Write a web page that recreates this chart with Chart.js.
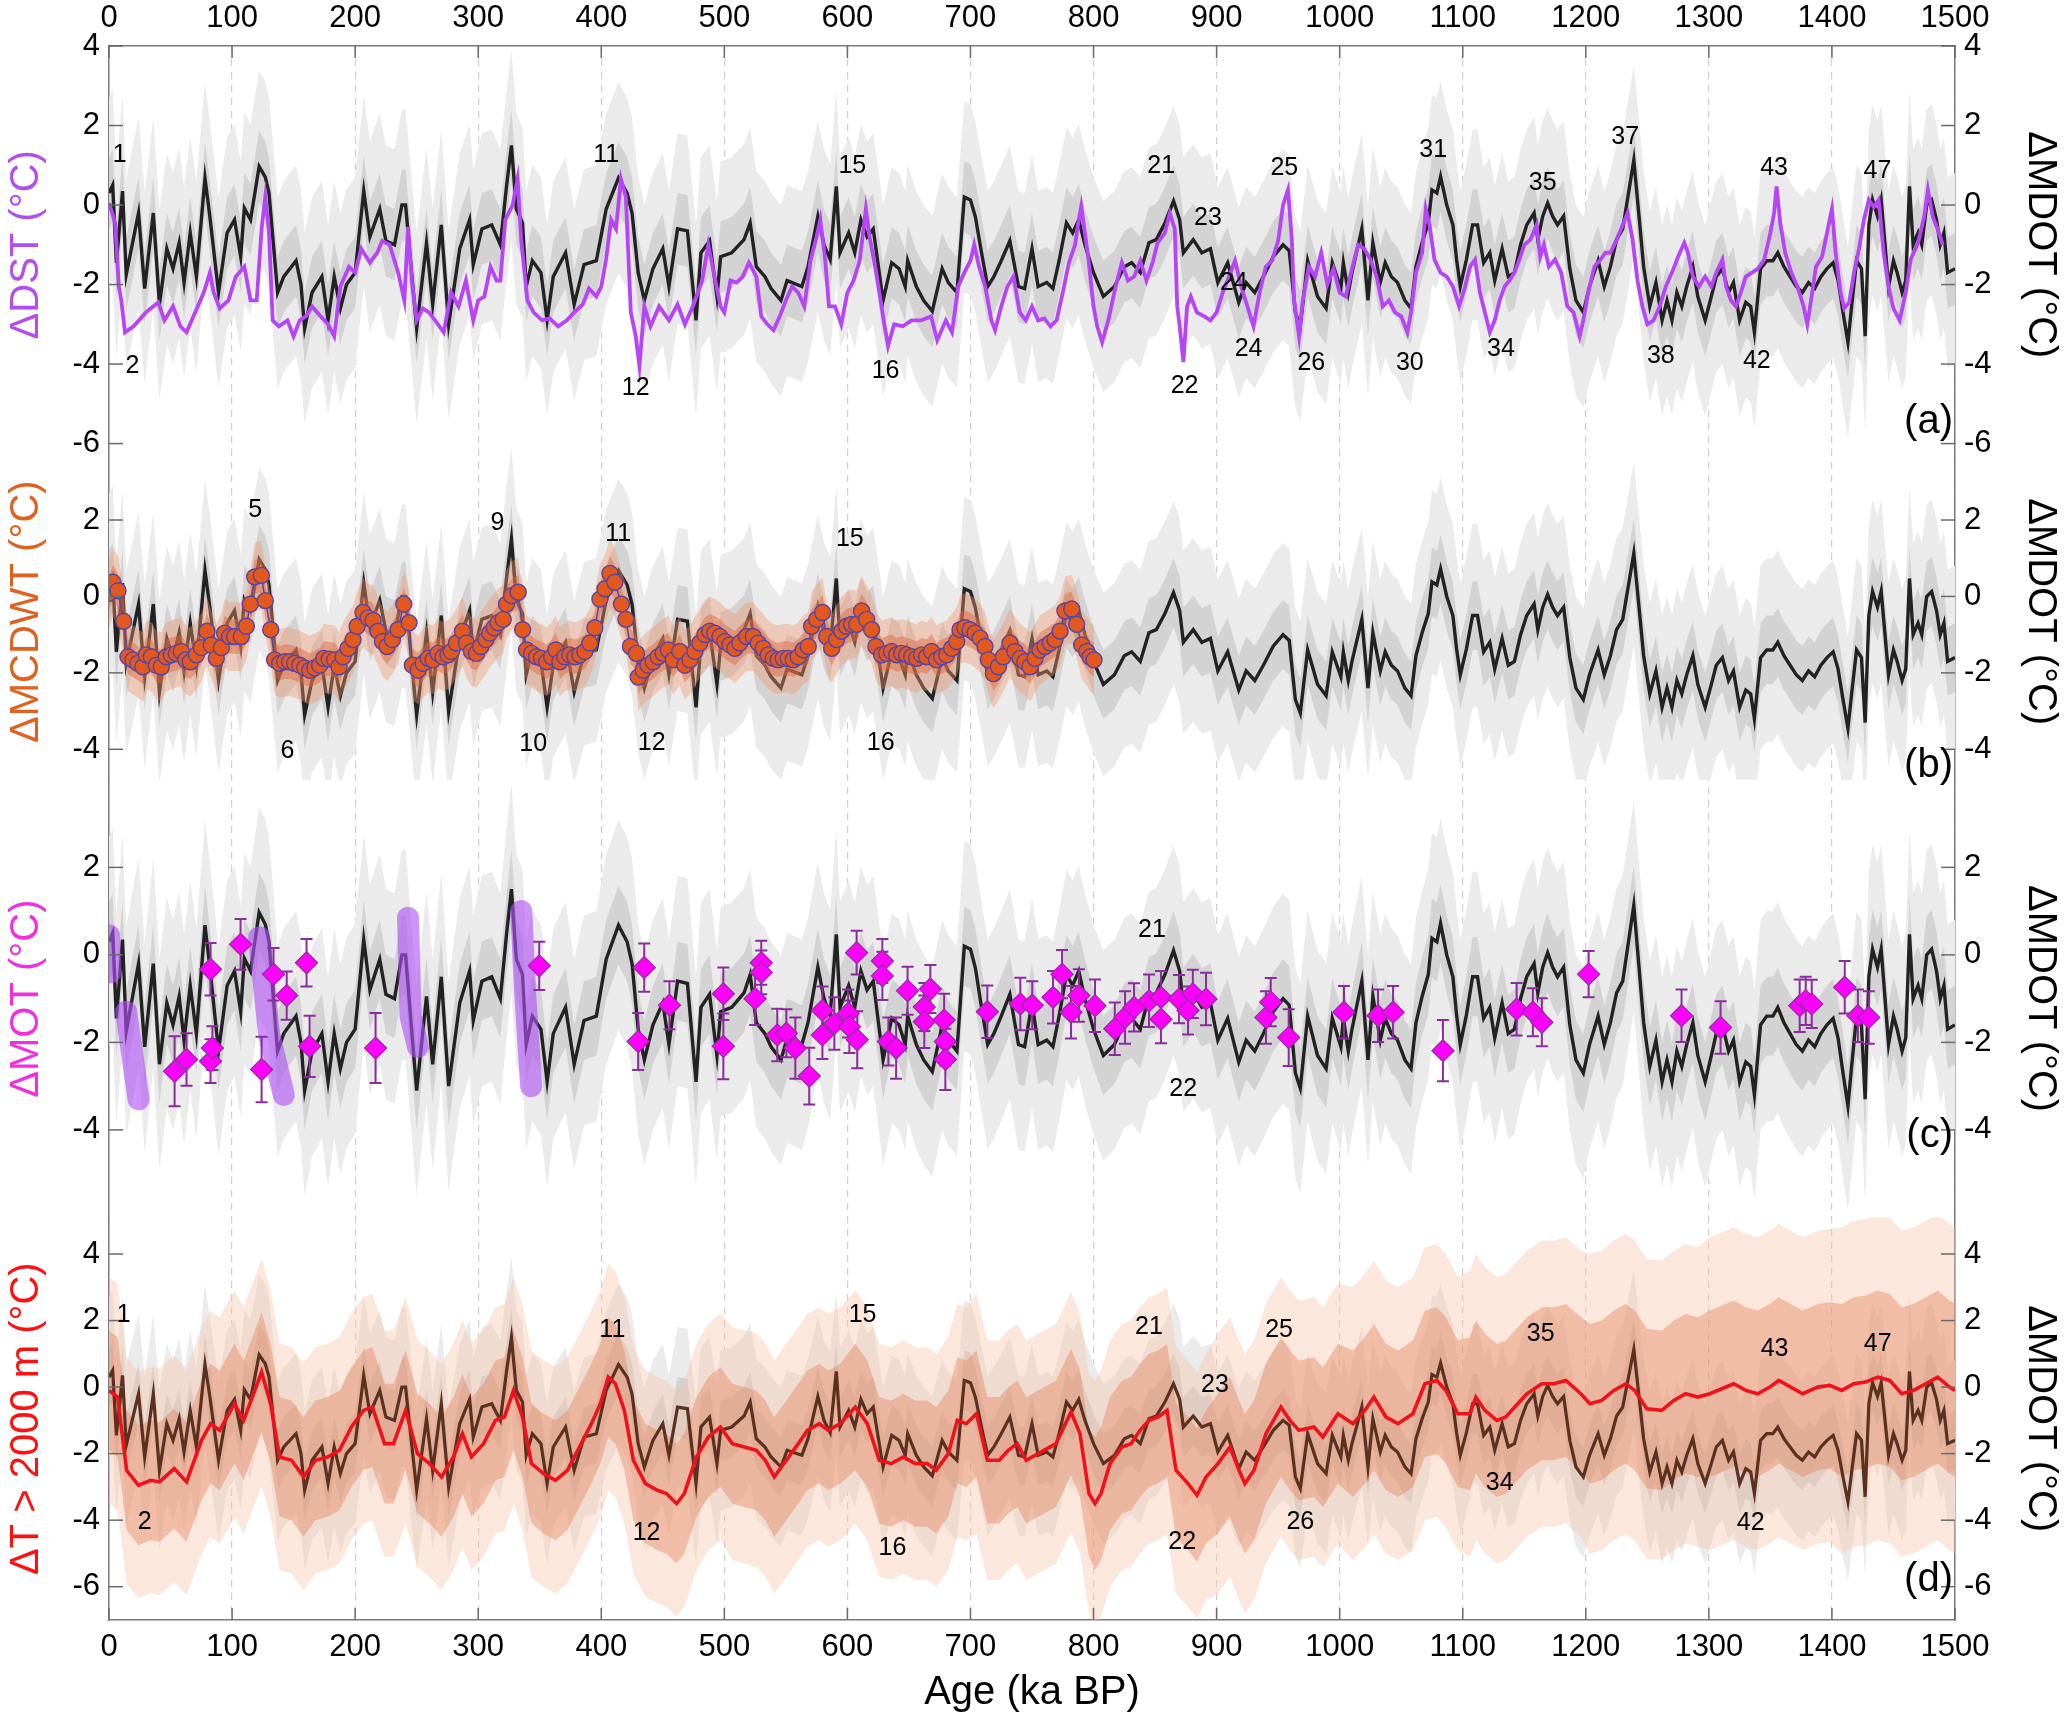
<!DOCTYPE html>
<html>
<head>
<meta charset="utf-8">
<script src="https://cdn.jsdelivr.net/npm/chart.js@4.4.1/dist/chart.umd.min.js"></script>
<style>
  html, body { margin: 0; padding: 0; background: #fff; }
  #tempChart { display: block; }
</style>
</head>
<body>
<canvas id="tempChart" width="2067" height="1727"></canvas>
<script>
// ---- MDOT (black line, repeated in all four panels) ----
var mdotAge = [0,3,6,11,14,24,29,36,41,47,52,57,61,66,71,78,82,89,96,102,107,110,115,122,127,130,137,142,152,156,159,165,173,178,183,188,193,200,207,212,220,225,232,238,241,245,250,258,263,270,276,285,293,296,303,311,318,323,327,331,336,339,344,351,356,361,371,378,386,396,404,414,421,425,430,435,442,450,455,462,470,477,481,488,494,497,506,516,521,526,533,538,546,551,563,568,576,581,586,591,594,601,606,611,616,621,629,636,642,647,649,656,662,669,677,682,689,695,700,704,709,714,719,725,732,739,744,750,755,762,767,772,778,783,788,793,800,808,817,825,831,838,845,851,858,865,870,873,881,888,895,901,909,918,924,931,938,946,954,959,964,968,974,982,989,994,1001,1003,1007,1010,1018,1023,1027,1033,1037,1042,1047,1053,1058,1062,1067,1072,1075,1079,1082,1087,1092,1095,1098,1103,1108,1112,1117,1122,1126,1132,1137,1142,1147,1152,1158,1161,1165,1169,1173,1177,1182,1187,1192,1198,1203,1210,1215,1220,1225,1230,1236,1239,1243,1247,1252,1257,1262,1266,1270,1274,1278,1282,1287,1291,1297,1302,1306,1311,1316,1320,1325,1330,1334,1337,1342,1347,1352,1356,1361,1366,1371,1376,1381,1386,1391,1396,1401,1405,1409,1413,1416,1420,1424,1427,1430,1433,1437,1440,1443,1446,1450,1453,1457,1460,1463,1466,1470,1473,1477,1481,1485,1488,1491,1494,1500];
var mdotVal = [0.3,0.5,-1.45,0.35,-1.75,-0.2,-2.1,-0.2,-2.5,-1.1,-1.6,-0.95,-1.95,-0.7,-1.8,0.68,-0.3,-2.2,-0.7,-0.37,-1.3,-0.08,-0.37,0.97,0.7,0.3,-2.2,-1.8,-1.4,-2.0,-3.1,-2.2,-1.8,-2.9,-1.8,-2.6,-2.0,-1.7,0.35,-0.8,-0.1,-0.9,-1.0,0.0,0.0,-1.4,-3.1,-0.95,-2.5,-0.5,-3.0,-1.1,-0.37,-1.5,-0.6,-0.5,-1.0,0.47,1.5,-0.1,-0.45,-2.05,-1.4,-1.7,-2.9,-1.8,-1.2,-2.5,-1.5,-1.4,-0.1,0.68,0.3,-0.2,-1.7,-2.4,-1.6,-1.1,-2.05,-0.6,-0.65,-2.9,-1.2,-0.9,-2.3,-1.3,-1.2,-0.87,-0.45,-1.55,-1.8,-2.1,-2.4,-1.9,-2.05,-1.55,-0.28,-1.0,-1.37,0.47,-1.2,-0.7,-1.2,-0.37,-0.8,-0.6,-2.4,-1.45,-1.6,-2.05,-1.4,-2.05,-2.4,-2.67,-1.6,-1.95,-2.2,0.2,0.13,-0.3,-1.2,-2.05,-1.8,-1.4,-0.9,-2.05,-2.1,-1.1,-2.05,-1.95,-2.1,-1.4,-0.45,-0.7,-0.37,-1.0,-1.7,-2.3,-2.05,-1.55,-1.45,-1.7,-0.95,-0.87,-0.45,0.1,-0.37,-1.2,-0.87,-1.2,-1.1,-1.95,-1.45,-2.45,-1.95,-2.2,-1.8,-1.3,-1.0,-1.15,-2.7,-3.05,-1.4,-2.3,-2.6,-1.45,-2.1,-1.45,-2.2,-1.7,-0.6,-2.4,-0.95,-1.95,-1.45,-1.8,-1.95,-2.4,-2.6,-1.55,-0.95,-0.45,0.38,0.3,0.72,0.0,-0.5,-1.37,-2.05,-1.37,-0.5,-0.5,-1.45,-1.2,-1.9,-1.1,-1.8,-1.7,-1.0,-0.5,-0.2,-0.87,-0.28,0.05,-0.28,-0.5,-0.28,-1.6,-2.4,-2.7,-2.05,-1.4,-2.05,-1.55,-0.87,-0.6,0.55,1.13,-0.2,-1.55,-2.55,-1.95,-2.9,-2.4,-2.9,-2.2,-2.55,-2.05,-1.55,-2.3,-2.9,-2.3,-1.8,-1.6,-2.2,-1.95,-2.9,-2.45,-2.55,-3.2,-1.6,-1.4,-1.4,-1.2,-1.55,-1.8,-2.05,-2.2,-1.95,-2.1,-1.8,-1.6,-1.45,-1.9,-2.7,-3.45,-2.55,-1.4,-1.6,-3.3,-0.5,0.13,-0.28,0.13,-0.95,-2.05,-1.4,-1.7,-2.2,-1.9,0.47,-1.0,-0.7,-1.0,0.0,0.13,-0.37,-1.0,-0.7,-1.7,-1.6];

// ---- DST (purple, panel a) ----
var dstAge = [0,5,8,10,13,20,30,40,45,52,58,63,70,77,82,85,90,97,103,110,115,120,124,127,130,133,138,145,150,155,160,165,172,178,183,188,195,200,205,212,218,222,228,235,240,243,246,250,255,260,265,272,278,284,290,296,300,305,310,315,318,322,328,332,335,340,345,352,358,365,372,378,385,390,396,400,404,408,412,416,420,424,428,431,435,440,447,455,462,468,475,482,487,492,497,500,505,510,515,520,526,530,535,540,545,550,555,560,565,570,575,578,582,585,590,595,600,605,610,615,618,622,626,630,633,638,645,652,660,668,673,680,685,690,695,700,703,707,712,717,720,725,730,735,740,745,750,755,760,765,770,775,780,785,788,790,793,796,800,803,807,812,818,823,828,833,838,843,848,852,858,862,866,868,870,873,876,879,884,890,895,900,905,910,915,920,925,930,935,940,945,950,954,958,961,963,967,970,975,980,985,990,995,1000,1005,1010,1015,1020,1025,1030,1035,1040,1045,1050,1055,1058,1062,1067,1070,1073,1077,1082,1087,1092,1097,1102,1106,1110,1114,1118,1122,1126,1130,1134,1138,1142,1146,1150,1155,1160,1163,1166,1170,1175,1180,1185,1190,1195,1198,1202,1207,1212,1216,1220,1225,1230,1234,1238,1242,1246,1250,1255,1260,1265,1270,1275,1280,1283,1287,1292,1297,1302,1306,1311,1314,1318,1322,1326,1330,1335,1340,1345,1350,1353,1355,1358,1362,1367,1372,1377,1380,1383,1387,1392,1400,1403,1407,1410,1414,1418,1422,1426,1430,1434,1438,1442,1446,1450,1455,1460,1464,1470,1475,1478,1482,1487,1490];
var dstVal = [0.05,-0.45,-2.05,-2.4,-3.2,-3.05,-2.7,-2.45,-2.9,-2.55,-3.05,-3.2,-2.7,-2.2,-1.7,-2.2,-2.6,-2.4,-1.8,-1.55,-2.4,-2.4,-0.6,0.2,-0.7,-2.9,-3.05,-2.9,-3.3,-2.9,-2.8,-2.55,-2.8,-3.0,-3.3,-2.05,-1.55,-1.7,-1.1,-1.45,-1.2,-0.9,-1.0,-1.7,-2.4,-0.55,-1.9,-2.9,-2.6,-2.7,-2.9,-3.2,-2.2,-2.55,-1.9,-2.9,-2.4,-2.3,-1.55,-1.9,-1.9,-0.37,0.0,0.65,-0.9,-2.4,-2.7,-2.9,-2.85,-3.05,-2.9,-2.7,-2.5,-2.1,-2.3,-2.05,-1.35,-0.37,-0.6,0.65,0.2,-2.7,-3.3,-4.05,-2.55,-3.05,-2.55,-2.9,-2.5,-3.0,-2.5,-1.9,-1.0,-1.8,-2.55,-2.7,-1.9,-1.95,-1.8,-1.45,-1.8,-2.8,-3.0,-3.15,-2.8,-2.4,-2.05,-2.2,-2.55,-1.4,-0.8,-0.37,-1.4,-2.55,-2.55,-3.0,-2.2,-1.9,-1.4,-0.1,-0.8,-1.45,-2.2,-3.0,-3.55,-3.0,-3.05,-2.9,-2.9,-2.8,-3.4,-2.9,-3.2,-2.05,-1.7,-1.4,-1.0,-1.55,-2.05,-2.9,-3.15,-2.55,-2.05,-1.8,-2.7,-2.9,-2.55,-2.9,-2.85,-3.05,-2.9,-2.2,-1.45,-1.0,-0.37,-0.03,-0.7,-1.4,-2.55,-3.05,-3.45,-2.9,-2.05,-1.45,-1.9,-1.8,-1.4,-1.9,-1.45,-0.95,-0.7,-0.2,-0.6,-2.55,-3.05,-3.95,-2.55,-2.3,-2.7,-2.8,-2.9,-2.7,-2.2,-1.8,-1.4,-2.05,-2.55,-3.05,-2.2,-1.55,-1.4,-0.9,0.0,0.38,-0.8,-2.4,-3.3,-2.4,-1.55,-1.8,-1.2,-2.0,-1.6,-2.2,-2.3,-1.6,-1.0,-1.1,-1.37,-1.8,-2.55,-2.4,-2.7,-2.8,-3.2,-2.7,-1.7,-1.2,-0.1,-0.5,-1.37,-1.7,-1.8,-2.05,-2.55,-2.05,-1.55,-1.37,-2.2,-2.7,-3.2,-2.9,-2.4,-2.05,-1.9,-1.7,-1.37,-1.0,-0.87,-0.5,-1.3,-1.0,-1.55,-1.37,-1.7,-2.55,-2.7,-3.3,-2.9,-2.2,-1.55,-1.37,-1.2,-1.2,-0.87,-0.5,-0.2,-0.87,-1.9,-2.55,-3.0,-2.9,-2.55,-2.05,-1.7,-1.3,-0.95,-1.2,-1.8,-2.05,-1.8,-2.05,-1.7,-1.37,-2.05,-2.4,-2.55,-2.2,-1.8,-1.7,-1.6,-1.37,-0.7,-0.2,0.47,-0.45,-1.2,-1.7,-2.05,-2.55,-3.0,-2.4,-1.55,-1.3,-0.1,-1.2,-2.2,-2.6,-2.45,-1.7,-1.1,-0.37,0.13,-0.05,0.13,-1.2,-2.05,-2.6,-2.9,-2.2,-1.37,-0.95,-0.28,0.38,-0.3,-0.7,-1.0];

// ---- MCDWT (orange circles, panel b) ----
var mcdwtAge = [0,3.2,7.3,11.9,15.4,19.5,23.5,27.6,30.3,34.4,38.4,42.5,46.6,50.6,54.7,58.7,62.3,66.1,71,75,79.6,83.1,87.2,91.3,93.9,98,102,107.5,111.6,114.8,118.4,123.8,127,131.4,134.6,138.7,142.8,146.8,150.9,155,159,163.1,167.2,171.2,174.5,178.9,183.4,186.9,190.2,194.2,198.3,201.6,206.4,210.5,214.6,218.6,222.2,226,230.3,234.9,239.5,243.8,246.5,251.2,255.2,259.3,263.3,267.4,271.5,275.5,278.2,282.3,287.2,290.4,294.5,298.6,302.1,306.2,309.4,313,316.2,320.3,323,327.1,332.5,336.1,339.3,343.4,347.4,351.5,355.6,359.7,363.1,366.4,370.4,374.5,378.6,382.6,386.7,390.7,394.8,398.9,403,407,411,416.4,420,423.7,428.6,430,434,438,442.2,446.2,450.3,454.4,458.4,463.8,467.9,472,476,480.1,484.2,488.2,492.3,496.4,500.4,504.5,508.6,512.6,518,523.5,527.5,531.6,535.7,539.7,543.8,547.9,551.9,556,560,564.1,568.2,570.9,575,579.8,583.1,587.2,591.2,595.3,599.3,603.4,607.5,611.5,615.6,619.7,623.2,627.8,631.9,635.9,640,644.1,648.1,652.2,656.3,660.3,664.4,668.4,672.5,676.6,680.6,684.7,688.8,691.5,695.5,699.6,703.7,707.8,711.8,714.5,718.6,722.7,726.7,732.1,736.2,740.3,744.3,748.4,752.5,756.5,760.6,764.7,768.7,772.8,776.8,782.3,786.3,790.4,794.5,797.2,800.4];
var mcdwtVal = [0.08,0.37,0.15,-0.65,-1.58,-1.66,-1.75,-1.84,-1.53,-1.58,-1.8,-1.84,-1.58,-1.53,-1.49,-1.44,-1.66,-1.71,-1.53,-1.34,-0.91,-1.27,-1.62,-1.34,-0.96,-1.05,-1.05,-1.05,-0.78,-0.2,0.51,0.55,-0.11,-0.87,-1.66,-1.75,-1.71,-1.71,-1.75,-1.8,-1.87,-1.93,-1.87,-1.8,-1.62,-1.64,-1.66,-1.84,-1.58,-1.36,-1.13,-0.78,-0.42,-0.56,-0.63,-0.91,-1.18,-1.31,-1.13,-0.87,-0.2,-0.69,-1.8,-1.93,-1.75,-1.62,-1.66,-1.49,-1.58,-1.53,-1.44,-1.22,-0.91,-1.22,-1.44,-1.49,-1.31,-1.13,-0.96,-0.82,-0.69,-0.6,-0.2,0.02,0.11,-0.87,-1.4,-1.49,-1.58,-1.62,-1.71,-1.58,-1.4,-1.71,-1.58,-1.53,-1.58,-1.53,-1.44,-1.22,-0.82,-0.07,0.2,0.6,0.37,-0.2,-0.6,-1.31,-1.49,-2.11,-1.93,-1.8,-1.71,-1.58,-1.49,-1.4,-1.66,-1.44,-1.8,-1.66,-1.44,-1.22,-1.0,-0.91,-0.96,-1.05,-1.18,-1.27,-1.36,-1.22,-1.05,-1.05,-1.22,-1.36,-1.53,-1.62,-1.66,-1.62,-1.62,-1.66,-1.58,-1.4,-1.31,-0.78,-0.6,-0.42,-1.05,-1.36,-1.13,-0.91,-0.78,-0.73,-0.73,-0.38,-0.6,-0.87,-1.31,-1.53,-1.49,-1.44,-1.53,-1.49,-1.53,-1.58,-1.62,-1.53,-1.58,-1.44,-1.66,-1.58,-1.53,-1.36,-1.18,-0.87,-0.82,-0.87,-0.96,-1.09,-1.31,-1.66,-2.02,-1.84,-1.58,-1.22,-1.44,-1.62,-1.71,-1.84,-1.62,-1.4,-1.31,-1.22,-1.13,-0.91,-0.38,-0.33,-0.73,-1.27,-1.44,-1.58,-1.66];

// ---- MOT (magenta diamonds with error bars, panel c) ----
var motAge = [53.3,63,82.5,82.5,84,106.9,124,133.7,144.4,160.5,163,216.6,349.6,430,434.9,455.4,499.2,499.2,525,530,530,543,550.4,557.7,569,579.7,579.7,589.4,600.6,601.6,607.5,608,628.4,628.4,633.3,639.6,648.9,662.5,662.5,667.4,678.6,679.6,679.6,713.7,740.5,750.2,767.1,774.4,781.7,788.1,801.2,817.3,825.6,832.9,845.1,854.8,854.8,869.4,876.8,880.7,891.4,940.1,944,958.6,1003.5,1031.2,1043.4,1083.9,1143.8,1157,1164.3,1202.3,1277.8,1309.5,1373.8,1378.7,1383.6,1410.4,1421.1,1429.9];
var motVal = [-2.66,-2.39,-0.33,-2.43,-2.13,0.24,-2.62,-0.44,-0.93,-0.18,-2.09,-2.13,-0.25,-1.98,-0.29,-1.15,-0.89,-2.09,-1.0,-0.18,-0.4,-1.83,-1.79,-2.13,-2.77,-1.27,-1.83,-1.57,-1.34,-1.64,0.05,-1.94,-0.14,-0.48,-1.98,-2.13,-0.82,-1.19,-1.53,-0.78,-1.49,-1.98,-2.39,-1.3,-1.12,-1.15,-0.97,-0.44,-1.31,-0.93,-1.16,-1.69,-1.43,-1.2,-1.05,-0.97,-1.47,-1.01,-1.27,-0.89,-1.01,-1.43,-1.08,-1.89,-1.31,-1.39,-1.31,-2.19,-1.24,-1.31,-1.54,-0.44,-1.39,-1.66,-1.16,-1.05,-1.12,-0.74,-1.39,-1.43];
var motErr = [0.8,0.6,0.6,0.5,0.5,0.58,0.75,0.6,0.55,0.54,0.7,0.8,0.55,0.65,0.55,0.55,0.6,0.75,0.6,0.5,0.5,0.6,0.55,0.7,0.65,0.55,0.55,0.6,0.55,0.6,0.5,0.65,0.5,0.55,0.55,0.7,0.55,0.55,0.6,0.55,0.6,0.55,0.7,0.6,0.6,0.55,0.6,0.55,0.6,0.6,0.6,0.6,0.6,0.55,0.6,0.6,0.55,0.55,0.55,0.55,0.6,0.6,0.55,0.65,0.6,0.6,0.6,0.7,0.6,0.55,0.55,0.53,0.6,0.6,0.6,0.55,0.55,0.6,0.6,0.6];

// ---- MOT ranges (thick translucent purple strokes, panel c) ----
var motRangeAge = [[0,1],[14,24],[122,130,142],[243,245,251],[335,338,343]];
var motRangeVal = [[0.45,-0.4],[-1.3,-3.3],[0.4,-1.8,-3.2],[0.85,-1.4,-2.1],[1.0,-0.8,-3.0]];

// ---- dT > 2000 m (red line, panel d) ----
var redAge = [0,7,14.3,24,33.8,41.1,53,63,75.2,82.6,89.9,102,109.4,124,131.3,138.6,148.3,158.1,167.8,177.6,187.3,197,206.8,214,223.9,231.2,241,250.7,260.4,270.2,279.9,287.2,294.5,304.3,314,321.3,328.7,336,343.3,353,362.8,372.5,382.3,392,399.3,405.7,411.5,418.8,426.1,435.9,445.6,452.9,461.2,467.5,477.3,487,496.8,506.5,516.3,526,533.3,540.6,550.4,560.1,567.5,577.2,584.5,594.3,606.4,616.2,625.9,635.7,645.4,655.2,664.9,672.2,682,689.3,696.6,704.9,713.7,723.4,730.7,738,745.3,755,769.5,781.7,789,796.3,801.2,806.1,813.4,823.1,830.5,837.8,845.1,852.4,859.7,867,876.8,884.1,891.4,901.1,910.9,918.2,923,930.4,940.1,952.3,959.6,966.9,979.1,986.4,998.6,1010.8,1020.5,1027.8,1037.6,1047.3,1059.5,1069.3,1079,1086.3,1096.1,1105.8,1110.7,1118,1127.7,1135,1142.3,1152.1,1164.3,1174,1183.8,1196,1203.3,1213,1222.8,1232.5,1239.8,1249.6,1261.7,1271.5,1281.2,1291,1300.7,1310.5,1320.2,1330,1339.7,1349.5,1356.8,1366.5,1376.3,1388.5,1398.2,1408,1417.7,1427.4,1437.2,1447,1456.7,1466.4,1476.2,1486,1495.6,1500];
var redVal = [-0.1,-0.3,-2.5,-2.95,-2.8,-2.85,-2.45,-2.85,-1.6,-1.1,-1.3,-0.5,-1.0,0.45,-0.5,-2.1,-2.2,-2.7,-2.2,-2.1,-1.9,-1.2,-0.7,-0.6,-1.7,-1.7,-0.7,-2.0,-2.3,-2.7,-2.1,-1.4,-2.1,-1.7,-1.0,-0.9,-0.1,-0.9,-2.3,-2.6,-2.8,-2.5,-1.8,-1.1,-0.5,0.3,0.1,-0.7,-2.2,-2.9,-3.1,-3.2,-3.5,-3.2,-2.1,-1.5,-1.2,-1.7,-1.8,-1.9,-2.2,-2.7,-2.2,-1.7,-1.3,-1.1,-1.3,-1.1,-0.6,-1.1,-2.2,-2.3,-2.1,-2.3,-2.3,-2.5,-2.0,-1.0,-1.1,-0.8,-2.2,-2.2,-1.9,-1.7,-2.2,-2.0,-1.7,-0.75,-1.4,-3.2,-3.5,-3.2,-2.3,-1.8,-1.7,-1.3,-1.0,-0.9,-0.7,-2.5,-2.9,-3.25,-2.7,-2.3,-1.8,-2.5,-2.9,-2.5,-1.4,-0.6,-1.0,-1.3,-1.2,-1.5,-0.8,-1.1,-0.7,-0.3,-0.9,-1.1,-0.8,0.1,0.2,-0.1,-0.8,-0.8,-0.3,-0.7,-1.0,-0.9,-0.6,-0.2,0.1,0.1,0.2,-0.2,-0.5,-0.4,-0.1,0.1,-0.1,-0.65,-0.7,-0.4,-0.2,-0.3,-0.2,-0.05,0.1,-0.1,-0.2,0.0,0.2,0.0,-0.2,0.0,0.05,-0.1,0.1,0.15,0.3,0.2,-0.2,-0.1,0.1,0.3,0.0,-0.1];

// ---- band half-widths ----
var mdotBandDark = 0.9, mdotBandLight = 2.4;
var mcdwtBandInner = 0.45, mcdwtBandOuter = 0.9;
var redBandInner = [1.8,1.8,1.8,1.8,1.8,1.8,1.9,1.9,2.0,2.1,2.2,2.3,2.4,2.5,2.6];
var redBandOuter = [3.4,3.4,3.4,3.4,3.4,3.5,3.5,3.6,3.7,3.9,4.1,4.3,4.5,4.7,4.9];

// ---- MIS stage labels [age, value, text] ----
var misA = [[8.6,1.26,'1'],[19,-4.05,'2'],[404,1.26,'11'],[428,-4.6,'12'],[604,0.97,'15'],[631,-4.18,'16'],[855,0.97,'21'],[874,-4.55,'22'],[893,-0.33,'23'],[914,-1.96,'24'],[926,-3.63,'24'],[955,0.93,'25'],[977,-3.97,'26'],[1057,-3.97,'30'],[1076,1.39,'31'],[1131,-3.63,'34'],[1165,0.55,'35'],[1232,1.72,'37'],[1261,-3.8,'38'],[1339,-3.92,'42'],[1353,0.93,'43'],[1437,0.85,'47']];
var misB = [[118.7,2.27,'5'],[145,-4.05,'6'],[315.7,1.92,'9'],[344.7,-3.87,'10'],[413.7,1.62,'11'],[441,-3.83,'12'],[602,1.5,'15'],[627,-3.84,'16']];
var misC = [[847.5,0.56,'21'],[872.9,-3.07,'22']];
var misD = [[11.9,2.15,'1'],[29,-4.05,'2'],[409,1.7,'11'],[436.8,-4.4,'12'],[612.3,2.15,'15'],[636.6,-4.85,'16'],[845,1.8,'21'],[872,-4.65,'22'],[898.7,0.05,'23'],[950.8,1.7,'25'],[968,-4.05,'26'],[1130,-2.9,'34'],[1163.3,1.6,'35'],[1334,-4.1,'42'],[1353.4,1.15,'43'],[1437.2,1.3,'47']];
var panelTags = [['yA',-5.45,'(a)'],['yB',-4.43,'(b)'],['yC',-4.15,'(c)'],['yD',-5.8,'(d)']];

var xTicks = [0,100,200,300,400,500,600,700,800,900,1000,1100,1200,1300,1400,1500];

// ---------------------------------------------------------------
Chart.defaults.font.family = "'Liberation Sans', Arial, Helvetica, sans-serif";
Chart.defaults.color = '#000';

var datasets = [];
function xy(ages, vals) { return ages.map(function (a, i) { return { x: a, y: vals[i] }; }); }
function shifted(vals, w) { return vals.map(function (v) { return v + w; }); }
function addBand(axis, ages, lo, hi, color, order) {
  datasets.push({ data: xy(ages, hi), yAxisID: axis, fill: '+1', backgroundColor: color,
    borderColor: 'rgba(0,0,0,0)', borderWidth: 0, pointRadius: 0, order: order });
  datasets.push({ data: xy(ages, lo), yAxisID: axis, fill: false,
    borderColor: 'rgba(0,0,0,0)', borderWidth: 0, pointRadius: 0, order: order });
}
function addLine(axis, ages, vals, color, width, order, label) {
  datasets.push({ label: label, data: xy(ages, vals), yAxisID: axis, fill: false, borderColor: color,
    borderWidth: width, pointRadius: 0, order: order });
}

['yA', 'yB', 'yC', 'yD'].forEach(function (ax) {
  addBand(ax, mdotAge, shifted(mdotVal, -mdotBandLight), shifted(mdotVal, mdotBandLight), '#ebebeb', 100);
  addBand(ax, mdotAge, shifted(mdotVal, -mdotBandDark), shifted(mdotVal, mdotBandDark), '#d3d3d3', 90);
});
addLine('yA', mdotAge, mdotVal, '#222', 3.4, 80);
addLine('yA', dstAge, dstVal, '#b545f6', 3.8, 50);

addLine('yB', mdotAge, mdotVal, '#222', 3.4, 80);
addBand('yB', mcdwtAge, shifted(mcdwtVal, -mcdwtBandOuter), shifted(mcdwtVal, mcdwtBandOuter), 'rgba(240,150,110,0.40)', 70);
addBand('yB', mcdwtAge, shifted(mcdwtVal, -mcdwtBandInner), shifted(mcdwtVal, mcdwtBandInner), 'rgba(226,100,50,0.45)', 65);
datasets.push({ data: xy(mcdwtAge, mcdwtVal), yAxisID: 'yB', fill: false, borderColor: '#5545a8', borderWidth: 1.5,
  pointRadius: 8, pointBackgroundColor: '#e2581d', pointBorderColor: '#5545a8', pointBorderWidth: 1.4, order: 50 });

addLine('yC', mdotAge, mdotVal, '#222', 3.4, 80);
motRangeAge.forEach(function (ages, k) {
  datasets.push({ data: xy(ages, motRangeVal[k]), yAxisID: 'yC', fill: false, borderColor: 'rgba(175,80,245,0.62)',
    borderWidth: 22, borderCapStyle: 'round', borderJoinStyle: 'round', pointRadius: 0, order: 60 });
});
datasets.push({ label: 'MOT', data: xy(motAge, motVal), yAxisID: 'yC', showLine: false, pointStyle: 'rectRot',
  pointRadius: 11, pointBackgroundColor: '#ff00ff', pointBorderColor: '#9a2aa6', pointBorderWidth: 1.3, order: 40 });

function redBin(a) { return Math.min(14, Math.floor(a / 100)); }
addBand('yD', redAge, redVal.map(function (v, i) { return v - redBandOuter[redBin(redAge[i])]; }),
  redVal.map(function (v, i) { return v + redBandOuter[redBin(redAge[i])]; }), 'rgba(248,195,170,0.40)', 75);
addBand('yD', redAge, redVal.map(function (v, i) { return v - redBandInner[redBin(redAge[i])]; }),
  redVal.map(function (v, i) { return v + redBandInner[redBin(redAge[i])]; }), 'rgba(228,130,90,0.42)', 70);
addLine('yD', mdotAge, mdotVal, '#5a3020', 3.2, 60);
addLine('yD', redAge, redVal, '#f0121a', 3.6, 50);

function yAxis(pos, weight, stackWeight, min, max, tickVals, title, color) {
  return {
    type: 'linear', position: pos, stack: pos, weight: weight, stackWeight: stackWeight, min: min, max: max,
    afterBuildTicks: function (s) { s.ticks = tickVals.map(function (v) { return { value: v }; }); },
    ticks: { font: { size: 31 }, color: '#000', padding: 9, autoSkip: false, callback: function (v) { return String(v); } },
    grid: { display: false, drawTicks: false },
    border: { display: true, color: '#7a7a7a', width: 1.5 },
    title: { display: true, text: title, color: color, font: { size: 40 }, padding: { top: 3, bottom: 3 } },
    afterFit: function (s) { s.width = pos === 'left' ? 109 : 112; }
  };
}

var decor = {
  id: 'decor',
  beforeDatasetDraw: function (chart, args) {
    if (chart.data.datasets[args.index].label !== 'MOT') return;
    var ctx = chart.ctx, x = chart.scales.x, y = chart.scales.yC;
    ctx.save();
    ctx.strokeStyle = '#8a2c9c';
    ctx.lineWidth = 2;
    motAge.forEach(function (a, i) {
      var px = x.getPixelForValue(a);
      var t = y.getPixelForValue(motVal[i] + motErr[i]);
      var b = y.getPixelForValue(motVal[i] - motErr[i]);
      ctx.beginPath();
      ctx.moveTo(px, t); ctx.lineTo(px, b);
      ctx.moveTo(px - 6, t); ctx.lineTo(px + 6, t);
      ctx.moveTo(px - 6, b); ctx.lineTo(px + 6, b);
      ctx.stroke();
    });
    ctx.restore();
  },
  afterDraw: function (chart) {
    var ctx = chart.ctx, x = chart.scales.x;
    ctx.save();
    // inward tick marks
    ctx.strokeStyle = '#6a6a6a';
    ctx.lineWidth = 1.5;
    Object.keys(chart.scales).forEach(function (id) {
      var s = chart.scales[id];
      s.ticks.forEach(function (t) {
        var p = s.getPixelForValue(t.value);
        ctx.beginPath();
        if (s.isHorizontal()) {
          var y0 = s.position === 'top' ? s.bottom : s.top;
          var dy = s.position === 'top' ? 12 : -12;
          ctx.moveTo(p, y0); ctx.lineTo(p, y0 + dy);
        } else {
          var x0 = s.position === 'left' ? s.right : s.left;
          var dx = s.position === 'left' ? 14 : -14;
          ctx.moveTo(x0, p); ctx.lineTo(x0 + dx, p);
        }
        ctx.stroke();
      });
    });
    // MIS labels
    ctx.fillStyle = '#000';
    ctx.font = "25px 'Liberation Sans', Arial, sans-serif";
    ctx.textAlign = 'center';
    ctx.textBaseline = 'middle';
    [['yA', misA], ['yB', misB], ['yC', misC], ['yD', misD]].forEach(function (g) {
      var y = chart.scales[g[0]];
      g[1].forEach(function (m) { ctx.fillText(m[2], x.getPixelForValue(m[0]), y.getPixelForValue(m[1])); });
    });
    // panel tags
    ctx.font = "40px 'Liberation Sans', Arial, sans-serif";
    ctx.textAlign = 'right';
    panelTags.forEach(function (p) {
      ctx.fillText(p[2], chart.chartArea.right - 2, chart.scales[p[0]].getPixelForValue(p[1]));
    });
    ctx.restore();
  }
};

var ctx = document.getElementById('tempChart');
var tempChart = new Chart(ctx, {
  type: 'line',
  data: { datasets: datasets },
  plugins: [decor],
  options: {
    responsive: false,
    animation: false,
    devicePixelRatio: 1,
    events: [],
    layout: { padding: 0 },
    elements: { line: { tension: 0 } },
    plugins: { legend: { display: false }, tooltip: { enabled: false } },
    scales: {
      x: {
        type: 'linear', position: 'bottom', min: 0, max: 1500,
        afterBuildTicks: function (s) { s.ticks = xTicks.map(function (v) { return { value: v }; }); },
        ticks: { font: { size: 31 }, color: '#000', padding: 9, maxRotation: 0, autoSkip: false,
          callback: function (v) { return String(v); } },
        grid: { color: '#cfcfcf', lineWidth: 1.2, drawTicks: false },
        border: { display: true, color: '#7a7a7a', width: 1.5, dash: [7, 6] },
        title: { display: true, text: 'Age (ka BP)', color: '#000', font: { size: 40 }, padding: { top: 10, bottom: 10 } },
        afterFit: function (s) { s.height = 107; }
      },
      xTop: {
        type: 'linear', position: 'top', min: 0, max: 1500,
        afterBuildTicks: function (s) { s.ticks = xTicks.map(function (v) { return { value: v }; }); },
        ticks: { font: { size: 31 }, color: '#000', padding: 9, maxRotation: 0, autoSkip: false,
          callback: function (v) { return String(v); } },
        grid: { display: false, drawTicks: false },
        border: { display: true, color: '#7a7a7a', width: 1.5 },
        afterFit: function (s) { s.height = 46; }
      },
      yA: yAxis('left', 4, 398, -6, 4, [-6, -4, -2, 0, 2, 4], 'ΔDST (°C)', '#b34df0'),
      yB: yAxis('left', 3, 336.6, -4.8, 4, [-4, -2, 0, 2], 'ΔMCDWT (°C)', '#e0601e'),
      yC: yAxis('left', 2, 438, -6, 4, [-4, -2, 0, 2], 'ΔMOT (°C)', '#f030e0'),
      yD: yAxis('left', 1, 403, -7, 5.1, [-6, -4, -2, 0, 2, 4], 'ΔT > 2000 m (°C)', '#ff1010'),
      rA: yAxis('right', 1, 398, -6, 4, [-6, -4, -2, 0, 2, 4], 'ΔMDOT (°C)', '#000'),
      rB: yAxis('right', 2, 336.6, -4.8, 4, [-4, -2, 0, 2], 'ΔMDOT (°C)', '#000'),
      rC: yAxis('right', 3, 438, -6, 4, [-4, -2, 0, 2], 'ΔMDOT (°C)', '#000'),
      rD: yAxis('right', 4, 403, -7, 5.1, [-6, -4, -2, 0, 2, 4], 'ΔMDOT (°C)', '#000')
    }
  }
});
</script>
</body>
</html>
